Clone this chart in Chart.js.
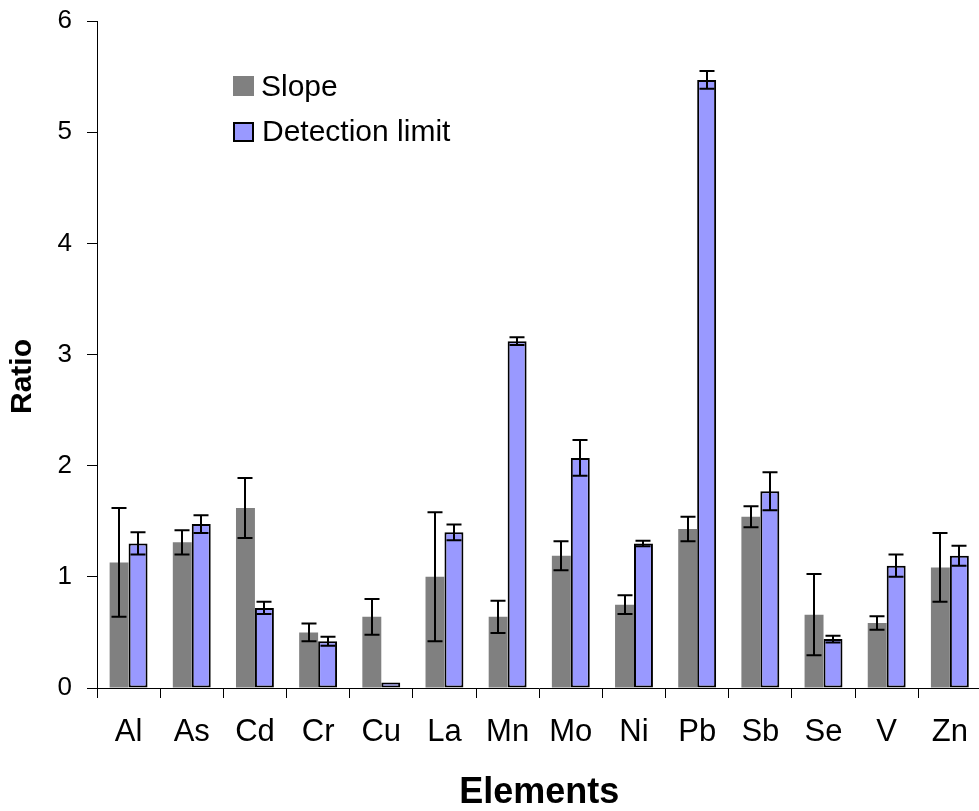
<!DOCTYPE html>
<html>
<head>
<meta charset="utf-8">
<script src="https://cdn.jsdelivr.net/npm/chart.js@4/dist/chart.umd.min.js"></script>
<style>
  html, body { margin: 0; padding: 0; background: #fff; overflow: hidden; width: 979px; height: 811px; }
  #wrap { position: relative; width: 984px; height: 811px; }
  canvas { display: block; }
  .lg { position: absolute; font-family: "Liberation Sans", Arial, sans-serif; font-size: 30px; line-height: 30px; color: #000; white-space: nowrap; }
  .sq { position: absolute; box-sizing: border-box; }
</style>
</head>
<body>
<div id="wrap">
  <canvas id="c" width="984" height="811"></canvas>
  <div class="sq" style="left:233px;top:76px;width:21px;height:20px;background:#808080;"></div>
  <div class="lg" style="left:261px;top:71px;">Slope</div>
  <div class="sq" style="left:233px;top:122px;width:21px;height:20px;background:#9999FF;border:2px solid #000;"></div>
  <div class="lg" style="left:262px;top:116px;">Detection limit</div>
</div>
<script>
const categories = ['Al','As','Cd','Cr','Cu','La','Mn','Mo','Ni','Pb','Sb','Se','V','Zn'];
const slopeValues = [1.13, 1.31, 1.62, 0.50, 0.64, 1.00, 0.64, 1.19, 0.75, 1.43, 1.54, 0.66, 0.585, 1.085];
const slopeErrors = [0.49, 0.11, 0.27, 0.08, 0.16, 0.58, 0.145, 0.13, 0.085, 0.11, 0.095, 0.365, 0.06, 0.31];
const detectionValues = [1.30, 1.475, 0.72, 0.42, 0.05, 1.40, 3.12, 2.07, 1.30, 5.47, 1.77, 0.44, 1.10, 1.19];
const detectionErrors = [0.10, 0.08, 0.055, 0.04, 0.0, 0.07, 0.035, 0.16, 0.025, 0.08, 0.17, 0.03, 0.10, 0.09];
const yTicks = [0, 1, 2, 3, 4, 5, 6];
const seriesNames = ['Slope', 'Detection limit'];

const FONT = '"Liberation Sans", Arial, sans-serif';

const errorBarPlugin = {
  id: 'errorBars',
  afterDatasetsDraw(chart) {
    const ctx = chart.ctx;
    const y = chart.scales.y;
    ctx.save();
    ctx.strokeStyle = '#000';
    ctx.lineWidth = 2;
    chart.data.datasets.forEach((ds, di) => {
      const meta = chart.getDatasetMeta(di);
      meta.data.forEach((bar, i) => {
        const v = ds.data[i];
        const e = ds.errors[i];
        if (!e) return;
        const x = Math.round(bar.x);
        const yt = y.getPixelForValue(v + e);
        const yb = y.getPixelForValue(v - e);
        ctx.beginPath();
        ctx.moveTo(x, yt); ctx.lineTo(x, yb);
        ctx.moveTo(x - 7.5, yt); ctx.lineTo(x + 7.5, yt);
        ctx.moveTo(x - 7.5, yb); ctx.lineTo(x + 7.5, yb);
        ctx.stroke();
      });
    });
    ctx.restore();
  }
};

new Chart(document.getElementById('c'), {
  type: 'bar',
  data: {
    labels: categories,
    datasets: [
      { label: seriesNames[0], data: slopeValues, errors: slopeErrors,
        backgroundColor: '#808080', borderWidth: 0 },
      { label: seriesNames[1], data: detectionValues, errors: detectionErrors,
        backgroundColor: '#9999FF', borderColor: '#000', borderWidth: 2, borderSkipped: false }
    ]
  },
  options: {
    responsive: false,
    animation: false,
    devicePixelRatio: 1,
    layout: { padding: { top: 21, right: 1, bottom: 0, left: 0 } },
    datasets: { bar: { categoryPercentage: 0.6, barPercentage: 1.0 } },
    plugins: { legend: { display: false }, tooltip: { enabled: false } },
    scales: {
      x: {
        afterFit(scale) { scale.height = 123; },
        grid: { display: true, drawOnChartArea: false, drawTicks: true, tickLength: 10, color: '#000', lineWidth: 1 },
        border: { display: true, color: '#000', width: 1 },
        ticks: { color: '#000', font: { family: FONT, size: 31 }, padding: 16, maxRotation: 0 },
        title: { display: true, text: 'Elements', color: '#000', font: { family: FONT, size: 36, weight: 'bold', lineHeight: 1.0 }, padding: { top: 0, bottom: 0 } }
      },
      y: {
        min: 0, max: 6,
        afterFit(scale) {
          scale.width = 97; scale.paddingTop = 0; scale.paddingBottom = 0;
          if (!scale._titleShifted) {
            const orig = Object.getPrototypeOf(scale).drawTitle;
            scale.drawTitle = function () {
              this.ctx.save();
              this.ctx.translate(0, 22);
              orig.call(this);
              this.ctx.restore();
            };
            scale._titleShifted = true;
          }
        },
        afterBuildTicks(scale) { scale.ticks = yTicks.map(v => ({ value: v })); },
        grid: { display: true, drawOnChartArea: false, drawTicks: true, tickLength: 10, color: '#000', lineWidth: 1 },
        border: { display: true, color: '#000', width: 1 },
        ticks: { color: '#000', font: { family: FONT, size: 26 }, padding: 15 },
        title: { display: true, text: 'Ratio', color: '#000', font: { family: FONT, size: 30, weight: 'bold' }, padding: { top: 5, bottom: 0 } }
      }
    }
  },
  plugins: [errorBarPlugin]
});
</script>
</body>
</html>
